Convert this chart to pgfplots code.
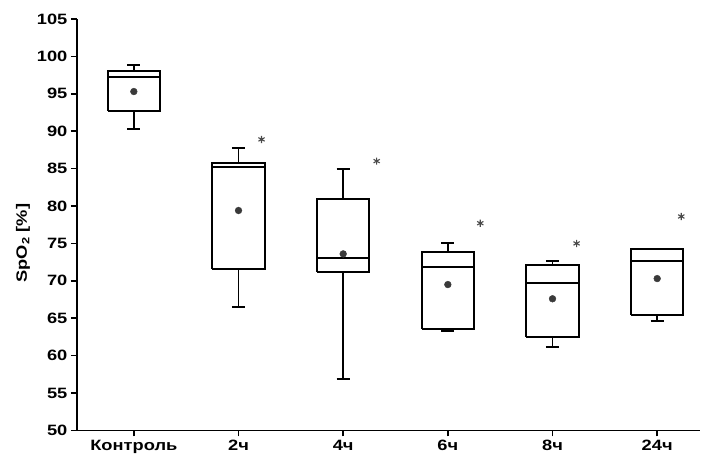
\documentclass[border=0pt]{standalone}
\usepackage{fontspec}
\setmainfont{Liberation Sans}[FakeStretch=1.22]
\usepackage{pgfplots}
\usepackage{pgfplotstable}
\pgfplotsset{compat=1.18}

\pgfplotstableread{
pos mean
0   95.3
1   79.4
2   73.6
3   69.5
4   67.6
5   70.3
}\means

\pgfplotstableread{
x    y
1.22 88.9
2.32 86.0
3.31 77.7
4.23 75.0
5.23 78.6
}\stars

\definecolor{meangray}{HTML}{3A3A3A}
\definecolor{stargray}{HTML}{4A4A4A}

\begin{document}
\begin{tikzpicture}
\begin{axis}[
  scale only axis, width=624pt, height=412pt,
  xmin=-0.544, xmax=5.41, ymin=50, ymax=105,
  axis x line=bottom, axis y line=left,
  axis line style={-, line width=1.8pt},
  xtick={0,...,5}, xticklabels={Контроль, 2ч, 4ч, 6ч, 8ч, 24ч},
  ytick={50,55,...,105},
  tick align=outside, major tick length=6pt,
  tick style={line width=1.5pt, black},
  /pgf/number format/assume math mode=true,
  tick label style={font=\fontsize{15}{17}\selectfont\bfseries},
  ylabel={SpO\textsubscript{2} [\%]},
  ylabel style={font=\fontsize{15}{17}\selectfont\bfseries, at={(ticklabel cs:0.455)}, anchor=near ticklabel},
  unbounded coords=jump,
  clip=false,
  bx/.style={black, solid, line width=1.9pt, mark=none, line join=miter},
]
% Контроль
\addplot[bx] coordinates {
(-0.25,92.7) (0.25,92.7) (0.25,98.1) (-0.25,98.1) (-0.25,92.7) (nan,nan)
(-0.25,97.2) (0.25,97.2) (nan,nan)
(0,98.1) (0,98.9) (nan,nan) (-0.0625,98.9) (0.0625,98.9) (nan,nan)
(0,92.7) (0,90.3) (nan,nan) (-0.0625,90.3) (0.0625,90.3)
};
% 2ч
\addplot[bx] coordinates {
(0.75,71.6) (1.25,71.6) (1.25,85.8) (0.75,85.8) (0.75,71.6) (nan,nan)
(0.75,85.2) (1.25,85.2) (nan,nan)
(1,85.8) (1,87.7) (nan,nan) (0.9375,87.7) (1.0625,87.7) (nan,nan)
(1,71.6) (1,66.5) (nan,nan) (0.9375,66.5) (1.0625,66.5)
};
% 4ч
\addplot[bx] coordinates {
(1.75,71.2) (2.25,71.2) (2.25,80.9) (1.75,80.9) (1.75,71.2) (nan,nan)
(1.75,73.0) (2.25,73.0) (nan,nan)
(2,80.9) (2,85.0) (nan,nan) (1.9375,85.0) (2.0625,85.0) (nan,nan)
(2,71.2) (2,56.9) (nan,nan) (1.9375,56.9) (2.0625,56.9)
};
% 6ч
\addplot[bx] coordinates {
(2.75,63.6) (3.25,63.6) (3.25,73.9) (2.75,73.9) (2.75,63.6) (nan,nan)
(2.75,71.8) (3.25,71.8) (nan,nan)
(3,73.9) (3,75.1) (nan,nan) (2.9375,75.1) (3.0625,75.1) (nan,nan)
(3,63.6) (3,63.3) (nan,nan) (2.9375,63.3) (3.0625,63.3)
};
% 8ч
\addplot[bx] coordinates {
(3.75,62.5) (4.25,62.5) (4.25,72.1) (3.75,72.1) (3.75,62.5) (nan,nan)
(3.75,69.7) (4.25,69.7) (nan,nan)
(4,72.1) (4,72.7) (nan,nan) (3.9375,72.7) (4.0625,72.7) (nan,nan)
(4,62.5) (4,61.2) (nan,nan) (3.9375,61.2) (4.0625,61.2)
};
% 24ч
\addplot[bx] coordinates {
(4.75,65.4) (5.25,65.4) (5.25,74.3) (4.75,74.3) (4.75,65.4) (nan,nan)
(4.75,72.6) (5.25,72.6) (nan,nan)
(5,65.4) (5,64.6) (nan,nan) (4.9375,64.6) (5.0625,64.6)
};
\addplot[only marks, mark=*, mark size=3.4pt, color=meangray] table[x=pos, y=mean]{\means};
\addplot[only marks, mark=asterisk, mark size=3.6pt, color=stargray, line width=1.1pt] table[x=x, y=y]{\stars};
\end{axis}
\path ([xshift=-77pt, yshift=-35pt]current axis.south west) ([yshift=19pt]current axis.north east);
\end{tikzpicture}
\end{document}
